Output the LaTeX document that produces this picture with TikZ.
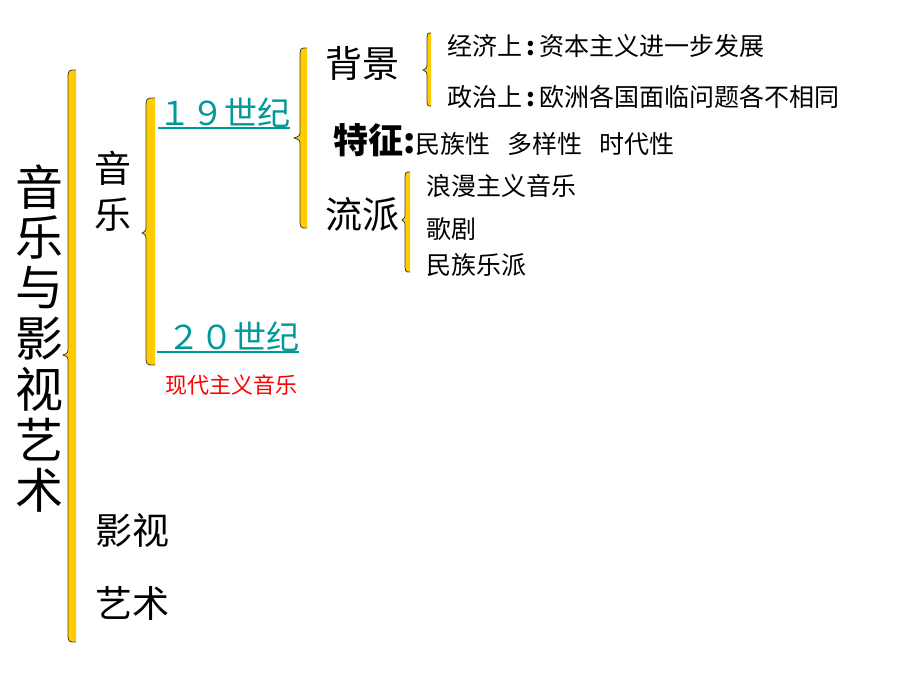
\documentclass[tikz,border=0pt]{standalone}
\usepackage{fontspec}
\newfontfamily\cjk{Noto Sans CJK SC}

\definecolor{braceyellow}{HTML}{FFCC00}
\definecolor{braceedge}{HTML}{404040}
\definecolor{centurycol}{HTML}{009999}

\tikzset{
  lbl/.style={anchor=west, inner sep=0pt, font=\cjk},
  big/.style={lbl, font=\cjk\fontsize{37}{42}\selectfont},
  small/.style={lbl, font=\cjk\fontsize{25}{30}\selectfont},
  century/.style={lbl, text=centurycol, font=\cjk\fontsize{33}{38}\selectfont},
  bracefill/.style={fill=braceyellow},
  braceline/.style={draw=braceedge, line width=0.8pt},
}

\begin{document}
\begin{tikzpicture}[x=1pt, y=-1pt]
\useasboundingbox (0,0) rectangle (920,690);

% braces: left x / width / top / tip / bottom / tip depth
\foreach \x/\w/\t/\m/\b/\d in {68/8/70/355/642/5, 146/9/98/233/365/4,
    300/7/48/138/228/6, 427/4/33/70/106/4, 405/5/172/220/272/3}
{
  \fill[bracefill] (\x+\w,\t) .. controls (\x,\t) .. (\x,\t+10) -- (\x,\m-8)
    .. controls (\x,\m-2) .. (\x-\d,\m) .. controls (\x,\m+2) .. (\x,\m+8)
    -- (\x,\b-10) .. controls (\x,\b) .. (\x+\w,\b) -- cycle;
  \draw[braceline] (\x+\w,\t) .. controls (\x,\t) .. (\x,\t+10) -- (\x,\m-8)
    .. controls (\x,\m-2) .. (\x-\d,\m) .. controls (\x,\m+2) .. (\x,\m+8)
    -- (\x,\b-10) .. controls (\x,\b) .. (\x+\w,\b);
}

% title
\foreach \c [count=\i] in {音,乐,与,影,视,艺,术}
  \node[inner sep=0pt, font=\cjk\fontsize{48}{50}\selectfont] (title\i)
    at (39,{187+50.5*(\i-1)}) {\c};

% music
\node[big, anchor=center] (yin) at (113,168) {音};
\node[big, anchor=center] (yue) at (113,215) {乐};

\node[century] (c19) at (158,113) {１９世纪};
\node[century] (c20) at (157,337) {\hspace{10pt}２０世纪};
\draw[centurycol, line width=1.5pt] (c19.south west) -- (c19.south east);
\draw[centurycol, line width=1.5pt] (c20.south west) -- (c20.south east);
\node[lbl, text=red, font=\cjk\fontsize{22}{26}\selectfont] (modern) at (165,385) {现代主义音乐};

\node[big] (beijing) at (325,63) {背景};
\node[lbl] (tezheng) at (333,140) {{\fontsize{35}{40}\selectfont\bfseries 特征:}{\fontsize{25}{30}\selectfont 民族性\hspace{17pt}多样性\hspace{17pt}时代性}};
\node[big] (liupai) at (325,215) {流派};

\node[small] (jingji) at (447,46) {经济上\,\textbf{:}\,资本主义进一步发展};
\node[small] (zhengzhi) at (447,97) {政治上\,\textbf{:}\,欧洲各国面临问题各不相同};
\node[small] (langman) at (426,186) {浪漫主义音乐};
\node[small] (geju) at (426,229) {歌剧};
\node[small] (minzu) at (426,265) {民族乐派};

% film and art
\node[big] (yingshi) at (95,530) {影视};
\node[big] (yishu) at (95,603) {艺术};
\end{tikzpicture}
\end{document}
